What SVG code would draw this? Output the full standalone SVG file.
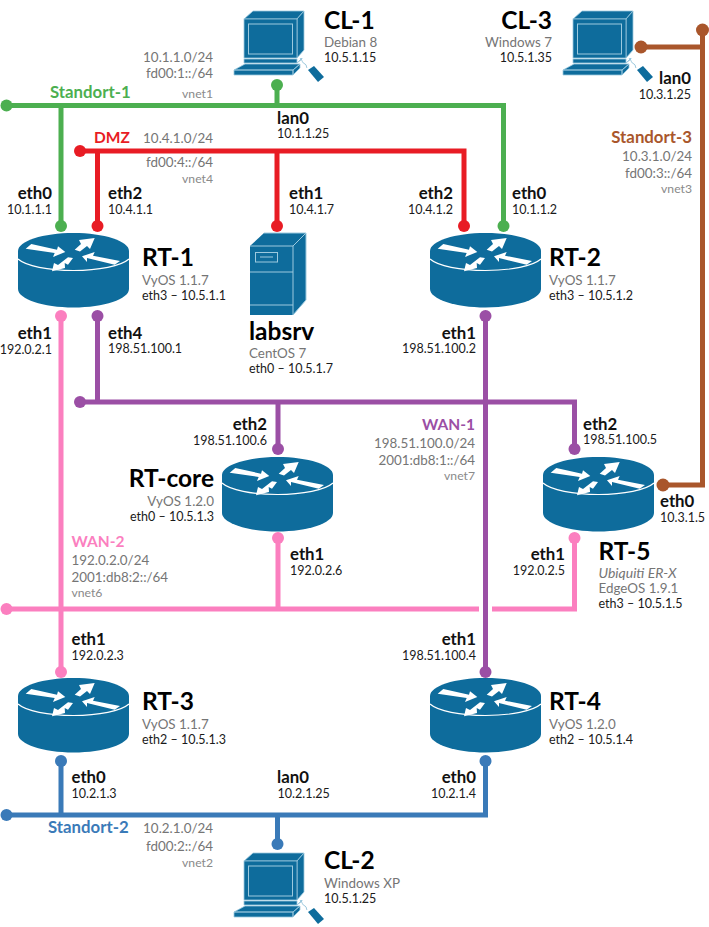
<svg xmlns="http://www.w3.org/2000/svg" width="709" height="927" viewBox="0 0 709 927">
<style>
text{font-family:"Lato","Carlito","Open Sans",sans-serif;fill:#1a1a1a}
.t{font-size:24.500px;font-weight:700;fill:#000}
.b{font-size:16.800px;font-weight:700;fill:#111}
.c{font-size:16.800px;font-weight:700}
.k{font-size:15.500px;font-weight:700}
.s{font-size:12.500px}
.g{font-size:13.400px;fill:#757575}
.v{font-size:12.200px;fill:#8a8a8a}
.e{text-anchor:end}
.i{font-style:italic;font-size:14px}
.n{fill:none;stroke-width:5}
.dev{fill:#0e6c9c}
.w{fill:#fff}
.l{fill:none;stroke:#9cc9de;stroke-width:1}
</style>
<defs>
<symbol id="router" width="111" height="75" viewBox="0 0 111 75" overflow="visible">
<path class="dev" d="M0,18C0,8 25,0 55.500,0S111,8 111,18V56C111,66 86,74.500 55.500,74.500S0,66 0,56Z"/>
<path d="M0,26C8,33 30,37.500 55.500,37.500S103,33 111,26" fill="none" stroke="#fff" stroke-width="1.200"/>
<path class="w" d="M7.700,15.700L13.300,11L39,16.700L40,13.300L47.300,19L35,24L36.700,20Z"/>
<path class="w" d="M56.700,16.700L63,11L61,7L76.700,5L72,16L69,13L62,18.500Z"/>
<path class="w" d="M102,28L96.700,31.700L69,25L69,29L64,23.300L76.700,19L75,22.700Z"/>
<path class="w" d="M55,25L50,31.700L46.700,30L47,35L34,38.300L36,30L40,32L50,24.300Z"/>
</symbol>
<symbol id="pc" width="90" height="72" viewBox="0 0 90 72" overflow="visible">
<path class="dev" stroke="#9cc9de" stroke-width="0.800" d="M10,8L19,0H70L63,8Z"/>
<path class="dev" stroke="#9cc9de" stroke-width="0.800" d="M63,8L70,0V39L63,47Z"/>
<rect class="dev" x="10" y="8" width="53" height="39" stroke="#9cc9de" stroke-width="0.800"/>
<rect class="l" x="14.500" y="13" width="44" height="30"/>
<path class="dev" stroke="#9cc9de" stroke-width="0.800" d="M10,48H63V52H10ZM63,52L68,47V48L63,52Z"/>
<path class="dev" stroke="#9cc9de" stroke-width="0.800" d="M0,59L11,53H66L59,59ZM0,59H59V64H0ZM59,59L66,53V57L59,64Z"/>
<path class="l" d="M66,47C69,50 68,52 71,53C73,54 72,56 73,57"/>
<path class="dev" d="M74,59L80,55L90,66L84,71Z"/>
</symbol>
</defs>

<g id="connectors">
<g stroke="#4caf50" fill="#4caf50">
<path class="n" d="M6.500,105.500H503.500V226M61,105.500V226M277,105.500V85"/>
<g stroke="none"><circle cx="6.500" cy="105.500" r="6"/><circle cx="503.500" cy="226" r="6"/><circle cx="61" cy="226" r="6"/><circle cx="277" cy="85" r="6"/></g>
</g>
<g stroke="#e81c24" fill="#e81c24">
<path class="n" d="M80,151H464V226M97.500,151V226M277,151V226"/>
<g stroke="none"><circle cx="80" cy="151" r="6"/><circle cx="464" cy="226" r="6"/><circle cx="97.500" cy="226" r="6"/><circle cx="277" cy="226" r="6"/></g>
</g>
<g stroke="#fb7fbf" fill="#fb7fbf">
<path class="n" d="M61,316V672M6.500,609H479M492,609H574.500V538M278,609V538"/>
<g stroke="none"><circle cx="61" cy="316" r="6"/><circle cx="61" cy="672" r="6"/><circle cx="6.500" cy="609" r="6"/><circle cx="574.500" cy="538" r="6"/><circle cx="278" cy="538" r="6"/></g>
</g>
<g stroke="#9b4fa5" fill="#9b4fa5">
<path class="n" d="M97.500,316V402M80,402H574.500V449M278,402V449M485.500,316V672"/>
<g stroke="none"><circle cx="97.500" cy="316" r="6"/><circle cx="80" cy="402" r="6"/><circle cx="574.500" cy="449" r="6"/><circle cx="278" cy="449" r="6"/><circle cx="485.500" cy="316" r="6"/><circle cx="485.500" cy="672" r="6"/></g>
</g>
<g stroke="#3a7ab8" fill="#3a7ab8">
<path class="n" d="M6.500,815H485.500V761M61,815V761M277.500,815V844"/>
<g stroke="none"><circle cx="6.500" cy="815" r="6"/><circle cx="485.500" cy="761" r="6"/><circle cx="61" cy="761" r="6"/><circle cx="277.500" cy="844" r="6"/></g>
</g>
<g stroke="#a9562b" fill="#a9562b">
<path class="n" d="M702.500,30V485H663M702.500,47H641"/>
<g stroke="none"><circle cx="702.500" cy="30" r="6.500"/><circle cx="641" cy="47" r="6.500"/><circle cx="663" cy="485" r="6.500"/></g>
</g>
</g>

<g id="CL-1"><use href="#pc" x="234" y="11"/>
<text class="t" x="324" y="29">CL-1</text><text class="g" x="324" y="47">Debian 8</text><text class="s" x="324" y="62">10.5.1.15</text></g>
<g id="CL-3"><use href="#pc" x="563" y="11"/>
<text class="t e" x="552" y="29">CL-3</text><text class="g e" x="552" y="47">Windows 7</text><text class="s e" x="552" y="62">10.5.1.35</text></g>
<g id="CL-2"><use href="#pc" x="234" y="853"/>
<text class="t" x="324" y="869">CL-2</text><text class="g" x="324" y="888">Windows XP</text><text class="s" x="324" y="903">10.5.1.25</text></g>
<g id="labsrv">
<path class="dev" d="M250,246L264,233H306L293,246Z"/><path class="dev" d="M293,246L306,233V300L293,315Z"/><rect class="dev" x="250" y="246" width="43" height="69"/>
<path d="M264,233H306L293,246H250M293,246V315M306,233V300L293,315M250,272H293M250,305H293" fill="none" stroke="#9cc9de" stroke-width="1"/>
<rect class="l" x="255.500" y="252.500" width="22" height="9.500"/><path class="l" d="M260,257H273"/>
<text class="t" x="249" y="340">labsrv</text><text class="g" x="249" y="358">CentOS 7</text><text class="s" x="249" y="373">eth0 – 10.5.1.7</text></g>
<g id="RT-1"><use href="#router" x="18" y="233"/>
<text class="t" x="142" y="266">RT-1</text><text class="g" x="142" y="285">VyOS 1.1.7</text><text class="s" x="142" y="300">eth3 – 10.5.1.1</text></g>
<g id="RT-2"><use href="#router" x="430" y="233"/>
<text class="t" x="549" y="266">RT-2</text><text class="g" x="549" y="285">VyOS 1.1.7</text><text class="s" x="549" y="300">eth3 – 10.5.1.2</text></g>
<g id="RT-core"><use href="#router" x="222" y="457"/>
<text class="t e" x="214" y="487">RT-core</text><text class="g e" x="214" y="506">VyOS 1.2.0</text><text class="s e" x="214" y="521">eth0 – 10.5.1.3</text></g>
<g id="RT-5"><use href="#router" x="543" y="457"/>
<text class="t" x="598.500" y="560">RT-5</text><text class="g i" x="598.500" y="578">Ubiquiti ER-X</text><text class="g" x="598.500" y="593">EdgeOS 1.9.1</text><text class="s" x="598.500" y="608">eth3 – 10.5.1.5</text></g>
<g id="RT-3"><use href="#router" x="18" y="678"/>
<text class="t" x="142" y="710">RT-3</text><text class="g" x="142" y="729">VyOS 1.1.7</text><text class="s" x="142" y="744">eth2 – 10.5.1.3</text></g>
<g id="RT-4"><use href="#router" x="430" y="678"/>
<text class="t" x="549" y="710">RT-4</text><text class="g" x="549" y="729">VyOS 1.2.0</text><text class="s" x="549" y="744">eth2 – 10.5.1.4</text></g>

<g id="net-labels">
<text class="g e" x="213" y="62">10.1.1.0/24</text><text class="g e" x="213" y="78">fd00:1::/64</text><text class="v e" x="213" y="98">vnet1</text>
<text class="c" x="50" y="98" style="fill:#4caf50">Standort-1</text>
<text class="k" x="94" y="143" style="fill:#e81c24">DMZ</text>
<text class="g e" x="213" y="143">10.4.1.0/24</text><text class="g e" x="213" y="167">fd00:4::/64</text><text class="v e" x="213" y="183">vnet4</text>
<text class="b" x="277" y="124">lan0</text><text class="s" x="277" y="138">10.1.1.25</text>
<text class="b e" x="52" y="199">eth0</text><text class="s e" x="52" y="214">10.1.1.1</text>
<text class="b" x="108" y="199">eth2</text><text class="s" x="108" y="214">10.4.1.1</text>
<text class="b" x="289" y="199">eth1</text><text class="s" x="289" y="214">10.4.1.7</text>
<text class="b e" x="453" y="199">eth2</text><text class="s e" x="453" y="214">10.4.1.2</text>
<text class="b" x="512" y="199">eth0</text><text class="s" x="512" y="214">10.1.1.2</text>
<text class="b e" x="691" y="84">lan0</text><text class="s e" x="691" y="99">10.3.1.25</text>
<text class="c e" x="692" y="143" style="fill:#a9562b">Standort-3</text>
<text class="g e" x="692" y="161">10.3.1.0/24</text><text class="g e" x="692" y="178">fd00:3::/64</text><text class="v e" x="692" y="193">vnet3</text>
<text class="b e" x="52" y="339">eth1</text><text class="s e" x="52" y="354">192.0.2.1</text>
<text class="b" x="108" y="339">eth4</text><text class="s" x="108" y="353">198.51.100.1</text>
<text class="b e" x="476" y="339">eth1</text><text class="s e" x="476" y="353">198.51.100.2</text>
<text class="b e" x="267" y="430">eth2</text><text class="s e" x="267" y="445">198.51.100.6</text>
<text class="b" x="583" y="430">eth2</text><text class="s" x="583" y="444">198.51.100.5</text>
<text class="k e" x="475" y="430" style="fill:#9b4fa5">WAN-1</text>
<text class="g e" x="475" y="448">198.51.100.0/24</text><text class="g e" x="475" y="465">2001:db8:1::/64</text><text class="v e" x="475" y="480">vnet7</text>
<text class="b" x="660" y="507">eth0</text><text class="s" x="660" y="522">10.3.1.5</text>
<text class="b" x="290" y="560">eth1</text><text class="s" x="290" y="575">192.0.2.6</text>
<text class="b e" x="565" y="560">eth1</text><text class="s e" x="565" y="575">192.0.2.5</text>
<text class="k" x="71.500" y="547" style="fill:#fb7fbf">WAN-2</text>
<text class="g" x="71.500" y="565">192.0.2.0/24</text><text class="g" x="71.500" y="582">2001:db8:2::/64</text><text class="v" x="71.500" y="597">vnet6</text>
<text class="b" x="71.500" y="645">eth1</text><text class="s" x="71.500" y="660">192.0.2.3</text>
<text class="b e" x="476" y="645">eth1</text><text class="s e" x="476" y="660">198.51.100.4</text>
<text class="b" x="71.500" y="783">eth0</text><text class="s" x="71.500" y="798">10.2.1.3</text>
<text class="b e" x="476" y="783">eth0</text><text class="s e" x="476" y="798">10.2.1.4</text>
<text class="b" x="277" y="783">lan0</text><text class="s" x="277.500" y="798">10.2.1.25</text>
<text class="c" x="48" y="833" style="fill:#3a7ab8">Standort-2</text>
<text class="g e" x="213" y="833">10.2.1.0/24</text><text class="g e" x="213" y="851">fd00:2::/64</text><text class="v e" x="213" y="867">vnet2</text>
</g>
</svg>
